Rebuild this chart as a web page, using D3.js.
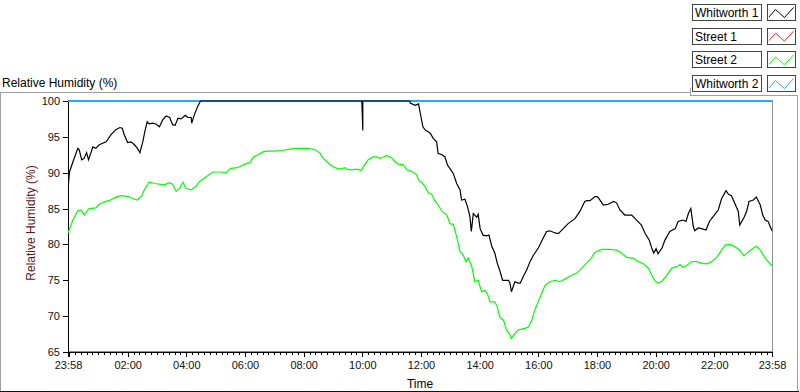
<!DOCTYPE html>
<html>
<head>
<meta charset="utf-8">
<script src="https://cdn.jsdelivr.net/npm/d3@7"></script>
<style>
  body { margin: 0; background: #fff; }
  svg { display: block; font-family: "Liberation Sans", Arial, sans-serif; }
</style>
</head>
<body>
<div id="CHART"></div>
<script>
// times are clock hours, 0 = midnight; the record starts at 23:58 the day before (-0.033)
var seriesNames = ["Whitworth 1", "Street 1", "Street 2", "Whitworth 2"];
var seriesColors = ["#000000", "#ff2020", "#00ff00", "#2aa8f0"];

var whitworth1 = [
  [-0.033, 87.8], [0.02, 90.1], [0.13, 91.5], [0.30, 93.4], [0.35, 93.2], [0.43, 91.8], [0.52, 92.0],
  [0.60, 92.8], [0.67, 91.8], [0.81, 93.6], [0.92, 93.4], [1.03, 93.9], [1.26, 94.3], [1.43, 95.3],
  [1.60, 96.0], [1.74, 96.3], [1.81, 96.2], [1.89, 95.3], [2.00, 94.2], [2.11, 94.3], [2.23, 93.9],
  [2.34, 93.4], [2.42, 92.8], [2.51, 94.3], [2.59, 95.7], [2.66, 97.1], [2.74, 96.8], [2.85, 96.9],
  [2.97, 96.8], [3.08, 96.4], [3.20, 97.4], [3.31, 97.9], [3.44, 97.7], [3.54, 96.7], [3.62, 96.6],
  [3.71, 97.6], [3.82, 97.5], [3.97, 98.0], [4.05, 97.7], [4.16, 97.7], [4.19, 96.9], [4.27, 98.0],
  [4.39, 99.2], [4.48, 100], [9.99, 100], [10.00, 98.0], [10.01, 95.9], [10.02, 100],
  [11.62, 100], [11.63, 99.7], [11.80, 99.4], [11.91, 99.6], [11.97, 98.5], [12.06, 96.4],
  [12.14, 96.0], [12.31, 95.5], [12.42, 94.8], [12.54, 94.3], [12.59, 92.7], [12.71, 92.5],
  [12.82, 92.2], [12.90, 91.1], [13.01, 90.4], [13.10, 89.9], [13.22, 88.5], [13.33, 87.6],
  [13.39, 86.2], [13.50, 86.3], [13.58, 85.3], [13.67, 83.9], [13.71, 81.8], [13.78, 84.3],
  [13.90, 83.8], [13.95, 84.2], [14.01, 82.2], [14.12, 81.3], [14.24, 81.2], [14.32, 81.3],
  [14.41, 79.7], [14.52, 78.8], [14.60, 77.4], [14.69, 76.4], [14.79, 75.0], [14.86, 75.0],
  [14.98, 75.0], [15.03, 74.6], [15.09, 73.4], [15.20, 74.8], [15.32, 74.6], [15.38, 74.6],
  [15.49, 75.5], [15.60, 76.4], [15.72, 77.6], [15.83, 78.5], [16.00, 79.5], [16.17, 80.9],
  [16.29, 81.8], [16.40, 81.9], [16.57, 81.6], [16.68, 81.5], [16.85, 82.2], [17.02, 82.9],
  [17.25, 83.6], [17.42, 84.6], [17.59, 86.0], [17.65, 86.1], [17.76, 86.1], [17.93, 86.7],
  [18.04, 86.6], [18.22, 85.5], [18.39, 85.6], [18.56, 86.0], [18.67, 85.8], [18.78, 84.8],
  [18.95, 84.1], [19.18, 84.1], [19.35, 83.4], [19.52, 82.7], [19.64, 81.6], [19.78, 80.6],
  [19.86, 79.5], [19.94, 78.8], [20.01, 79.4], [20.09, 78.7], [20.21, 79.5], [20.32, 80.6],
  [20.49, 81.8], [20.66, 82.2], [20.77, 83.2], [20.94, 83.4], [21.03, 83.2], [21.11, 84.3],
  [21.20, 85.0], [21.28, 82.5], [21.34, 81.9], [21.45, 82.3], [21.57, 82.2], [21.72, 82.0],
  [21.83, 83.2], [21.96, 83.9], [22.13, 84.8], [22.25, 86.4], [22.40, 87.5], [22.48, 87.0],
  [22.59, 86.8], [22.70, 85.7], [22.82, 84.6], [22.87, 82.7], [23.01, 83.8], [23.10, 84.6],
  [23.19, 86.0], [23.33, 86.2], [23.44, 86.6], [23.56, 85.5], [23.65, 84.1], [23.73, 83.4],
  [23.84, 83.2], [23.967, 81.9]
];

var street1 = [];

var street2 = [
  [-0.033, 81.6], [0.13, 83.4], [0.30, 84.7], [0.41, 84.8], [0.52, 84.1], [0.69, 85.0], [0.92, 85.1],
  [1.03, 85.6], [1.26, 86.0], [1.37, 86.1], [1.60, 86.6], [1.77, 86.8], [2.00, 86.7], [2.17, 86.4],
  [2.34, 86.2], [2.46, 86.7], [2.57, 87.6], [2.74, 88.7], [2.91, 88.5], [3.08, 88.4], [3.25, 88.3],
  [3.42, 88.6], [3.54, 88.4], [3.65, 87.4], [3.76, 87.8], [3.88, 88.7], [3.99, 87.8], [4.16, 87.6],
  [4.33, 88.1], [4.44, 88.7], [4.67, 89.4], [4.90, 90.1], [5.18, 90.1], [5.35, 90.0], [5.52, 90.6],
  [5.75, 90.7], [5.98, 91.2], [6.17, 91.4], [6.28, 92.2], [6.45, 92.5], [6.62, 92.9], [6.74, 93.0],
  [6.97, 93.0], [7.25, 93.1], [7.53, 93.3], [7.70, 93.4], [7.93, 93.4], [8.16, 93.4], [8.39, 93.2],
  [8.56, 92.7], [8.67, 92.0], [8.79, 91.6], [8.90, 91.1], [9.07, 90.7], [9.24, 90.5], [9.41, 90.7],
  [9.47, 90.5], [9.64, 90.4], [9.81, 90.5], [9.95, 90.3], [10.09, 91.1], [10.20, 91.8], [10.37, 92.2],
  [10.49, 92.2], [10.60, 92.0], [10.72, 92.2], [10.83, 92.4], [11.00, 92.1], [11.11, 91.5],
  [11.23, 91.2], [11.40, 91.1], [11.51, 90.4], [11.68, 90.2], [11.85, 89.7], [11.91, 89.0],
  [12.03, 88.6], [12.14, 88.1], [12.26, 87.1], [12.37, 87.0], [12.48, 86.0], [12.59, 85.5],
  [12.71, 84.6], [12.88, 84.1], [12.99, 82.9], [13.10, 82.8], [13.22, 81.1], [13.33, 79.0],
  [13.44, 78.6], [13.53, 77.6], [13.61, 78.1], [13.73, 76.9], [13.84, 74.8], [13.95, 75.0],
  [14.07, 73.4], [14.18, 73.6], [14.26, 73.1], [14.35, 72.0], [14.52, 72.0], [14.60, 71.3],
  [14.69, 69.9], [14.81, 69.4], [14.92, 68.1], [15.03, 67.4], [15.09, 66.9], [15.20, 67.6],
  [15.32, 68.1], [15.43, 68.2], [15.55, 68.3], [15.66, 68.5], [15.78, 69.5], [15.89, 70.9],
  [16.00, 72.0], [16.12, 73.2], [16.23, 74.3], [16.40, 74.8], [16.57, 75.0], [16.74, 74.8],
  [16.97, 75.3], [17.14, 75.7], [17.31, 76.0], [17.48, 76.7], [17.65, 77.4], [17.76, 77.9],
  [17.93, 78.9], [18.16, 79.3], [18.44, 79.3], [18.67, 79.2], [18.84, 78.8], [19.01, 78.2],
  [19.24, 78.1], [19.41, 77.6], [19.58, 77.3], [19.75, 76.7], [19.86, 75.7], [19.98, 74.9],
  [20.09, 74.6], [20.21, 74.9], [20.38, 75.7], [20.55, 76.7], [20.72, 76.9], [20.83, 77.2],
  [20.94, 76.8], [21.06, 77.1], [21.23, 77.6], [21.40, 77.6], [21.57, 77.4], [21.74, 77.3],
  [21.91, 77.6], [22.08, 78.2], [22.25, 79.2], [22.37, 79.9], [22.54, 80.0], [22.70, 79.7],
  [22.87, 79.2], [23.01, 78.4], [23.16, 79.0], [23.33, 79.5], [23.44, 79.7], [23.56, 79.2],
  [23.73, 78.1], [23.967, 77.0]
];

var whitworth2 = [
  [-0.033, 100], [6.00, 100], [12.00, 100], [18.00, 100], [23.967, 100]
];

var yTicks = [65, 70, 75, 80, 85, 90, 95, 100];
var majorHours = [0, 2, 4, 6, 8, 10, 12, 14, 16, 18, 20, 22];

var W = 800, H = 392;
var plot = {left: 68, right: 772, top: 101, bottom: 352};

var svg = d3.select("#CHART").append("svg")
    .attr("width", W).attr("height", H);

var midnight = new Date(2013, 5, 2, 0, 0, 0);
function toDate(h) { return new Date(midnight.getTime() + Math.round(h * 60) * 60000); }
var tStart = new Date(2013, 5, 1, 23, 58), tEnd = new Date(2013, 5, 2, 23, 58);

var x = d3.scaleTime().domain([tStart, tEnd]).range([plot.left, plot.right]);
var y = d3.scaleLinear().domain([65, 100]).range([plot.bottom, plot.top]);

// panel frame
var frame = svg.append("g").attr("fill", "none").attr("shape-rendering", "crispEdges");
frame.append("path").attr("d", "M0.5,391 V92.5 H690.5 V95.5 H797.5 V391").attr("stroke", "#a0a0a0");
frame.append("line").attr("x1", 0).attr("x2", 799).attr("y1", 391.5).attr("y2", 391.5).attr("stroke", "#111");
frame.append("line").attr("x1", 690.5).attr("x2", 690.5).attr("y1", 88).attr("y2", 93).attr("stroke", "#a0a0a0");

// title
svg.append("text").attr("x", 2).attr("y", 87).attr("font-size", 12).attr("fill", "#000")
    .text("Relative Humidity (%)");

// plot background and border
svg.append("rect")
    .attr("x", plot.left + 0.5).attr("y", plot.top - 0.5)
    .attr("width", plot.right - plot.left).attr("height", plot.bottom - plot.top)
    .attr("fill", "#fff").attr("stroke", "#909090").attr("shape-rendering", "crispEdges");

// y axis
var yAxis = svg.append("g")
    .attr("transform", "translate(" + plot.left + ",0)")
    .call(d3.axisLeft(y).tickValues(yTicks).tickSize(5).tickPadding(3));
yAxis.select(".domain").remove();
yAxis.selectAll("text").attr("font-size", 11).attr("font-family", "Liberation Sans, Arial, sans-serif").attr("fill", "#111");
yAxis.selectAll("line").attr("stroke", "#000").attr("shape-rendering", "crispEdges");

// x axis: minor ticks every 12 minutes, major every 2 hours
var minor = d3.timeMinute.every(12).range(midnight, tEnd);
var xMinor = svg.append("g")
    .attr("transform", "translate(0," + plot.bottom + ")")
    .call(d3.axisBottom(x).tickValues(minor).tickSize(3).tickFormat(""));
xMinor.select(".domain").remove();

var majors = [tStart].concat(majorHours.map(function(h) { return toDate(h); })).concat([tEnd]);
var fmt = d3.timeFormat("%H:%M");
var xAxis = svg.append("g")
    .attr("transform", "translate(0," + plot.bottom + ")")
    .call(d3.axisBottom(x).tickValues(majors).tickSize(5).tickPadding(4)
      .tickFormat(function(d, i) {
        if (i === 0 || i === majors.length - 1) return "23:58";
        if (d.getTime() === midnight.getTime()) return "";
        return fmt(d);
      }));
xAxis.select(".domain").remove();
xAxis.selectAll("text").attr("font-size", 11).attr("font-family", "Liberation Sans, Arial, sans-serif").attr("fill", "#111");
svg.selectAll(".tick line").attr("stroke", "#000").attr("shape-rendering", "crispEdges");

// axis lines
svg.append("path")
    .attr("d", "M" + (plot.left + 0.5) + "," + plot.top + " V" + (plot.bottom + 0.5) + " H" + (plot.right + 1))
    .attr("fill", "none").attr("stroke", "#000").attr("shape-rendering", "crispEdges");

// axis labels
svg.append("text").attr("x", 420).attr("y", 388).attr("text-anchor", "middle")
    .attr("font-size", 12).attr("fill", "#000").text("Time");
svg.append("text")
    .attr("transform", "translate(35,223) rotate(-90)")
    .attr("text-anchor", "middle").attr("font-size", 12).attr("fill", "#5e1414")
    .text("Relative Humidity (%)");

// lines
svg.append("defs").append("clipPath").attr("id", "clip")
  .append("rect").attr("x", plot.left).attr("y", plot.top - 1)
  .attr("width", plot.right - plot.left + 1).attr("height", plot.bottom - plot.top + 2);

var makeLine = d3.line()
    .x(function(d) { return x(toDate(d[0])); })
    .y(function(d) { return y(d[1]); });

var lines = svg.append("g").attr("clip-path", "url(#clip)");
var drawOrder = [[whitworth2, 3, 1.8], [street1, 1, 1.2], [street2, 2, 1.2], [whitworth1, 0, 1.2]];
drawOrder.forEach(function(s) {
  if (!s[0].length) return;
  lines.append("path")
    .attr("d", makeLine(s[0]))
    .attr("fill", "none")
    .attr("stroke", seriesColors[s[1]])
    .attr("stroke-width", s[2]);
});

// legend
var legend = svg.append("g");
seriesNames.forEach(function(name, i) {
  var top = 4 + i * 23.7;
  var g = legend.append("g").attr("transform", "translate(0," + top + ")");
  g.append("rect").attr("x", 692.5).attr("y", 0.5).attr("width", 69).attr("height", 16)
    .attr("fill", "#fff").attr("stroke", "#444").attr("shape-rendering", "crispEdges");
  g.append("text").attr("x", 695).attr("y", 13).attr("font-size", 12).attr("fill", "#000").text(name);
  g.append("rect").attr("x", 767.5).attr("y", 0.5).attr("width", 28).attr("height", 16)
    .attr("fill", "#fff").attr("stroke", "#444").attr("shape-rendering", "crispEdges");
  g.append("path").attr("d", "M769,13 L775.5,5.5 L784.5,13.5 L793.5,3.5")
    .attr("fill", "none").attr("stroke", seriesColors[i]).attr("stroke-width", 1);
});
</script>
</body>
</html>
